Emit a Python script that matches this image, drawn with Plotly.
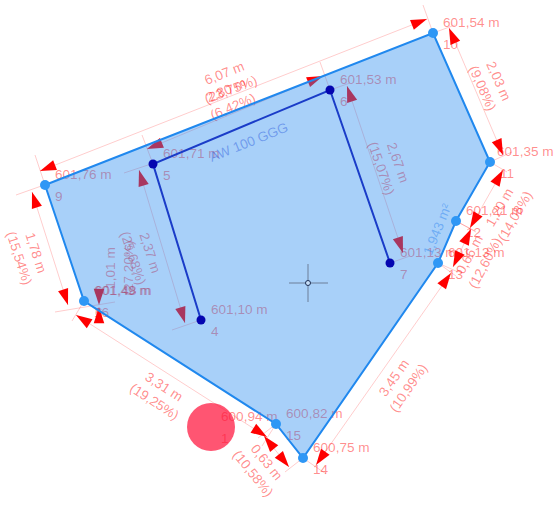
import math
import plotly.graph_objects as go

# Parcel outline (screen-space plan coordinates)
parcel_ids = ["9", "10", "11", "12", "13", "14", "15", "16"]
parcel_x = [45, 433, 490, 456, 438, 303, 276, 84]
parcel_y = [185, 33, 162, 221, 263, 458, 424, 301]
parcel_h = ["601,76 m", "601,54 m", "601,35 m", "601,21 m", "601,13 m", "600,75 m", "600,82 m", "601,49 m"]
parcel_nudge = [0, 0, -3, 0, 0, 0, 0, 0]

# Inner wall polyline
wall_ids = ["4", "5", "6", "7"]
wall_x = [201, 153, 330, 390]
wall_y = [320, 164, 90, 263]
wall_h = ["601,10 m", "601,71 m", "601,53 m", "601,13 m"]

# Point marker "1"
spot_x = [211]
spot_y = [427]
spot_h = ["600,94 m"]
spot_id = ["1"]

# Extra level stacked at vertex 16
extra_h = ["601,48 m"]
extra_id = ["6"]
extra_x = [85]
extra_y = [301]

# Dimension lines: start x, start y, end x, end y
dim_x0 = [40, 449, 503, 471, 451, 264, 267, 68, 147, 347, 185]
dim_y0 = [171, 28, 170, 229, 273, 436, 437, 305, 149, 86, 323]
dim_x1 = [427, 503, 470, 453, 316, 289, 76, 32, 323, 403, 139]
dim_y1 = [19, 155, 228, 267, 465, 467, 315, 192, 76, 253, 170]

# Extension lines
ext_x0 = [35, 423, 433, 490, 490, 456, 456, 438, 438, 303, 276, 303, 276, 84, 115, 16, 142, 320, 330, 390, 172, 124]
ext_y0 = [155, 5, 33, 162, 162, 221, 221, 263, 263, 458, 424, 458, 424, 301, 302, 195, 135, 62, 90, 263, 330, 173]
ext_x1 = [45, 433, 455, 512, 507, 476, 475, 458, 456, 326, 258, 285, 262, 72, 55, 47, 153, 330, 350, 410, 201, 157]
ext_y1 = [185, 33, 25, 152, 172, 232, 231, 272, 276, 474, 438, 472, 446, 321, 312, 184, 164, 90, 83, 256, 320, 162]

# Stray vertical dimension at vertex 16
stub_tip_x = [99, 99]
stub_tip_y = [305, 307]
stub_angle = [180, 0]

# Dimension text: text, centre x, centre y, angle
dim_text = ["6,07 m<br>(23,75%)", "2,80 m<br>(6,42%)", "2,03 m<br>(9,08%)", "1,20 m<br>(14,08%)", "0,66 m<br>(12,60%)",
            "3,45 m<br>(10,99%)", "0,63 m<br>(10,58%)", "3,31 m<br>(19,25%)", "1,78 m<br>(15,54%)", "2,67 m<br>(15,07%)",
            "2,37 m<br>(25,68%)", "1,01 m<br>(27,20%)"]
dim_tx = [227, 229, 492, 506, 476, 400, 261, 160, 29, 391, 143, 118]
dim_ty = [80, 97, 84, 211, 258, 382, 467, 393, 255, 165, 255, 268]
dim_ta = [-21.4, -22.7, 66, -60, -62, -55, 51, 33, 72, 71, 72, -90]

# Crosshair
cross_h_x = [289, 328]
cross_h_y = [283, 283]
cross_v_x = [308, 308]
cross_v_y = [264, 302]
cross_cx = [308]
cross_cy = [283]

RED_TEXT = "rgba(255,0,0,0.46)"
FONT = "Liberation Sans"
FS = 13.6


def hidden_line(x, y, text, angle=0, xanchor="left", color=RED_TEXT):
    return dict(type="line", xref="x", yref="y", layer="below", x0=x, y0=y, x1=x + 0.01, y1=y,
                line=dict(width=0, color="rgba(0,0,0,0)"),
                label=dict(text=text, textangle=angle, textposition="middle", xanchor=xanchor, yanchor="middle",
                           padding=0, font=dict(family=FONT, size=FS, color=color)))


shapes = []
all_ids = parcel_ids + wall_ids + spot_id + extra_id
all_x = parcel_x + wall_x + spot_x + extra_x
all_y = parcel_y + wall_y + spot_y + extra_y
all_h = parcel_h + wall_h + spot_h + extra_h
all_n = parcel_nudge + [0] * (len(all_x) - len(parcel_x))
for i, h, x, y, n in zip(all_ids, all_h, all_x, all_y, all_n):
    shapes.append(hidden_line(x + 10 + n, y - 12, h))
    shapes.append(hidden_line(x + 10, y + 10, i))
for t, x, y, a in zip(dim_text, dim_tx, dim_ty, dim_ta):
    shapes.append(hidden_line(x, y, t, a, "center"))


def segs(x0, y0, x1, y1):
    xs, ys = [], []
    for a, b, c, d in zip(x0, y0, x1, y1):
        xs += [a, c, None]
        ys += [b, d, None]
    return xs, ys


fig = go.Figure()
lx, ly = segs(dim_x0 + ext_x0, dim_y0 + ext_y0, dim_x1 + ext_x1, dim_y1 + ext_y1)
fig.add_trace(go.Scatter(x=lx, y=ly, mode="lines", line=dict(color="rgba(255,0,0,0.2)", width=1), hoverinfo="skip"))

# arrow heads at both ends, pointing outward along each dimension line
tip_x, tip_y, tip_a = [], [], []
for a, b, c, d in zip(dim_x0, dim_y0, dim_x1, dim_y1):
    ang = math.degrees(math.atan2(d - b, c - a)) + 90
    tip_x += [a, c]
    tip_y += [b, d]
    tip_a += [ang + 180, ang]
tip_x += stub_tip_x
tip_y += stub_tip_y
tip_a += stub_angle
fig.add_trace(go.Scatter(x=tip_x, y=tip_y, mode="markers", hoverinfo="skip",
                         marker=dict(symbol="arrow", size=17, color="#ff0000", angle=tip_a, line=dict(width=0))))

fig.add_trace(go.Scatter(x=spot_x, y=spot_y, mode="markers", hoverinfo="skip",
                         marker=dict(size=48, color="rgba(255,20,60,0.72)", line=dict(width=0))))

fig.add_trace(go.Scatter(x=parcel_x + parcel_x[:1], y=parcel_y + parcel_y[:1], mode="lines", fill="toself",
                         fillcolor="rgba(37,137,240,0.4)", line=dict(color="#2088ee", width=2), hoverinfo="skip"))
fig.add_trace(go.Scatter(x=parcel_x, y=parcel_y, mode="markers", hoverinfo="skip",
                         marker=dict(size=10, color="#2f97f5", line=dict(width=0))))
fig.add_trace(go.Scatter(x=wall_x, y=wall_y, mode="lines+markers", hoverinfo="skip",
                         line=dict(color="#1a3cc8", width=2),
                         marker=dict(size=9, color="#0505b0", line=dict(width=0))))

fig.add_trace(go.Scatter(x=cross_h_x + [None] + cross_v_x, y=cross_h_y + [None] + cross_v_y, mode="lines",
                         line=dict(color="#6d7f99", width=1), hoverinfo="skip"))
fig.add_trace(go.Scatter(x=cross_cx, y=cross_cy, mode="markers", hoverinfo="skip",
                         marker=dict(size=5, color="#c8e0fa", line=dict(width=1, color="#1c2f55"))))

annotations = [
    dict(x=248, y=142, text="AW 100 GGG", textangle=-22, showarrow=False, xref="x", yref="y",
         font=dict(family=FONT, size=FS, color="rgba(40,90,220,0.45)")),
    dict(x=437, y=229, text="1,943 m²", textangle=-68, showarrow=False, xref="x", yref="y",
         font=dict(family=FONT, size=FS, color="rgba(40,130,240,0.45)")),
]

fig.update_layout(
    width=554, height=505, margin=dict(l=0, r=0, t=0, b=0), autosize=False,
    paper_bgcolor="white", plot_bgcolor="white", showlegend=False, shapes=shapes, annotations=annotations,
    xaxis=dict(range=[0, 554], visible=False, fixedrange=True),
    yaxis=dict(range=[505, 0], visible=False, fixedrange=True),
)
fig.write_html("out.html", config={"displayModeBar": False},
               post_script="document.body.style.margin='0';document.body.style.overflow='hidden';")
